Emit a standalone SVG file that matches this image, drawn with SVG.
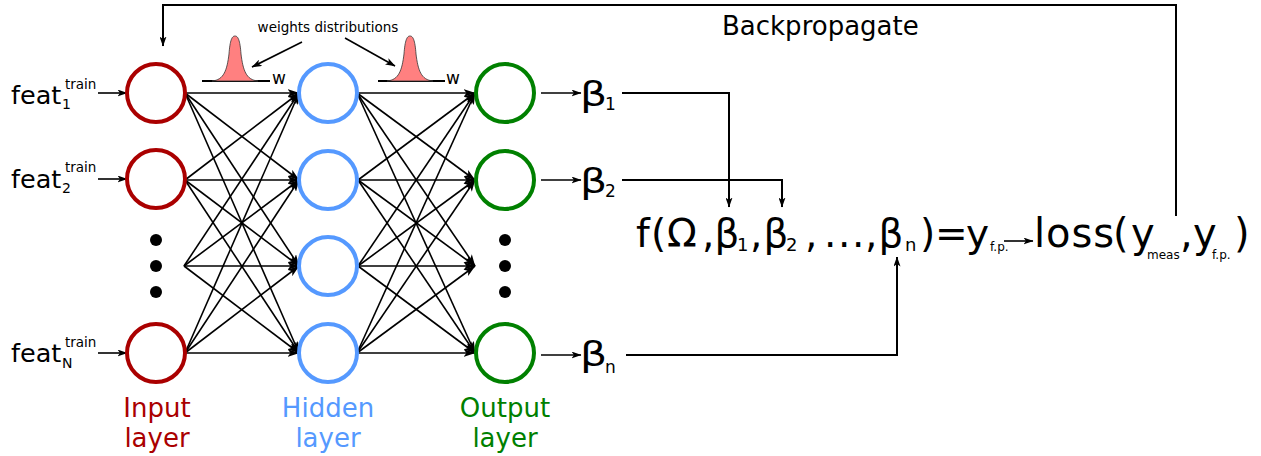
<svg xmlns="http://www.w3.org/2000/svg" width="1261" height="456" viewBox="0 0 1261 456">
<style>
text{font-family:"DejaVu Sans",Verdana,sans-serif;fill:#000}
.node{fill:#fff;stroke-width:4}
.in{stroke:#aa0000}.hid{stroke:#5599ff}.out{stroke:#008000}
.ln{stroke:#000;stroke-width:1.6;fill:none}
.lk{stroke:#000;stroke-width:2;fill:none}
.bell{fill:#ff8080;stroke:#333;stroke-width:0.8}
</style>
<defs>
<marker id="ah" viewBox="0 0 12 8" refX="11.5" refY="4" markerWidth="12" markerHeight="8" markerUnits="userSpaceOnUse" orient="auto"><path d="M0,0 L12,4 L0,8 L3,4 Z" fill="#000"/></marker>
<marker id="as" viewBox="0 0 10 7" refX="9.5" refY="3.5" markerWidth="10" markerHeight="7" markerUnits="userSpaceOnUse" orient="auto"><path d="M0,0 L10,3.5 L0,7 L2.5,3.5 Z" fill="#000"/></marker>
</defs>

<g id="connectors">
<path class="ln" marker-end="url(#ah)" d="M185,93 L299,93"/>
<path class="ln" marker-end="url(#ah)" d="M185,93 L299,180"/>
<path class="ln" marker-end="url(#ah)" d="M185,93 L299,266"/>
<path class="ln" marker-end="url(#ah)" d="M185,93 L299,353"/>
<path class="ln" marker-end="url(#ah)" d="M185,180 L299,93"/>
<path class="ln" marker-end="url(#ah)" d="M185,180 L299,180"/>
<path class="ln" marker-end="url(#ah)" d="M185,180 L299,266"/>
<path class="ln" marker-end="url(#ah)" d="M185,180 L299,353"/>
<path class="ln" marker-end="url(#ah)" d="M184,266 L299,93"/>
<path class="ln" marker-end="url(#ah)" d="M184,266 L299,180"/>
<path class="ln" marker-end="url(#ah)" d="M184,266 L299,266"/>
<path class="ln" marker-end="url(#ah)" d="M184,266 L299,353"/>
<path class="ln" marker-end="url(#ah)" d="M185,353 L299,93"/>
<path class="ln" marker-end="url(#ah)" d="M185,353 L299,180"/>
<path class="ln" marker-end="url(#ah)" d="M185,353 L299,266"/>
<path class="ln" marker-end="url(#ah)" d="M185,353 L299,353"/>
<path class="ln" marker-end="url(#ah)" d="M357,93 L475,93"/>
<path class="ln" marker-end="url(#ah)" d="M357,93 L475,180"/>
<path class="ln" marker-end="url(#ah)" d="M357,93 L475,266"/>
<path class="ln" marker-end="url(#ah)" d="M357,93 L475,353"/>
<path class="ln" marker-end="url(#ah)" d="M358,180 L475,93"/>
<path class="ln" marker-end="url(#ah)" d="M358,180 L475,180"/>
<path class="ln" marker-end="url(#ah)" d="M358,180 L475,266"/>
<path class="ln" marker-end="url(#ah)" d="M358,180 L475,353"/>
<path class="ln" marker-end="url(#ah)" d="M358,266 L475,93"/>
<path class="ln" marker-end="url(#ah)" d="M358,266 L475,180"/>
<path class="ln" marker-end="url(#ah)" d="M358,266 L475,266"/>
<path class="ln" marker-end="url(#ah)" d="M358,266 L475,353"/>
<path class="ln" marker-end="url(#ah)" d="M357,353 L475,93"/>
<path class="ln" marker-end="url(#ah)" d="M357,353 L475,180"/>
<path class="ln" marker-end="url(#ah)" d="M357,353 L475,266"/>
<path class="ln" marker-end="url(#ah)" d="M357,353 L475,353"/>
<path class="ln" marker-end="url(#as)" d="M98,93 L127,93"/>
<path class="ln" marker-end="url(#as)" d="M98,179 L127,179"/>
<path class="ln" marker-end="url(#as)" d="M98,353 L127,353"/>
<path class="ln" marker-end="url(#as)" d="M541,93 L581,93"/>
<path class="ln" marker-end="url(#as)" d="M541,180 L581,180"/>
<path class="ln" marker-end="url(#as)" d="M541,355 L581,355"/>
<path class="lk" marker-end="url(#as)" d="M622,93 L729,93 L729,207"/>
<path class="lk" marker-end="url(#as)" d="M622,180 L782,180 L782,207"/>
<path class="lk" marker-end="url(#as)" d="M626,355 L897,355 L897,257"/>
<path class="ln" marker-end="url(#as)" d="M1004,241 L1033,241"/>
<path class="lk" marker-end="url(#as)" d="M1176,216 L1176,5 L163,5 L163,46"/>
<path class="ln" marker-end="url(#as)" d="M302,42 L252,67"/>
<path class="ln" marker-end="url(#as)" d="M345,38 L395,66"/>
</g>

<g id="input-layer">
<circle class="node in" cx="156" cy="93" r="29"/>
<circle class="node in" cx="156" cy="179" r="29"/>
<circle class="node in" cx="156" cy="353" r="29"/>
<circle cx="156" cy="240" r="6"/><circle cx="156" cy="266" r="6"/><circle cx="156" cy="292" r="6"/>
</g>
<g id="hidden-layer">
<circle class="node hid" cx="328" cy="93" r="29"/>
<circle class="node hid" cx="328" cy="180" r="29"/>
<circle class="node hid" cx="328" cy="266" r="29"/>
<circle class="node hid" cx="328" cy="353" r="29"/>
</g>
<g id="output-layer">
<circle class="node out" cx="505" cy="93" r="29"/>
<circle class="node out" cx="505" cy="180" r="29"/>
<circle class="node out" cx="505" cy="353" r="29"/>
<circle cx="505" cy="240" r="6"/><circle cx="505" cy="266" r="6"/><circle cx="505" cy="292" r="6"/>
</g>

<g id="features">
<text x="11" y="104" font-size="25.5">feat</text><text x="62" y="109" font-size="14">1</text><text x="65" y="89" font-size="13.5">train</text>
<text x="11" y="188" font-size="25.5">feat</text><text x="62" y="193" font-size="14">2</text><text x="65" y="172" font-size="13.5">train</text>
<text x="11" y="362" font-size="25.5">feat</text><text x="62" y="368" font-size="14">N</text><text x="65" y="347" font-size="13.5">train</text>
</g>

<g id="weights">
<text x="328" y="32" font-size="13.5" text-anchor="middle">weights distributions</text>
<path class="lk" d="M202,81 L270,81" stroke-width="1.6"/>
<path class="bell" d="M212,81 C224,80 227,70 229,54 C230,40 232,36 235,36 C238,36 240,40 241,54 C243,70 246,80 258,81 Z"/>
<text x="272" y="84" font-size="17">w</text>
<path class="lk" d="M378,81 L445,81" stroke-width="1.6"/>
<path class="bell" d="M387,81 C399,80 402,70 404,54 C405,40 407,36 410,36 C413,36 415,40 416,54 C418,70 421,80 433,81 Z"/>
<text x="446" y="84" font-size="17">w</text>
</g>

<g id="betas">
<text transform="translate(580,106) scale(1.25,1)" font-size="34">β</text><text x="605" y="110" font-size="17">1</text>
<text transform="translate(580,193) scale(1.25,1)" font-size="34">β</text><text x="605" y="197" font-size="17">2</text>
<text transform="translate(580,366) scale(1.25,1)" font-size="34">β</text><text x="605" y="373" font-size="17">n</text>
</g>

<g id="formula">
<text y="247" font-size="39"><tspan x="636">f</tspan><tspan x="651">(</tspan><tspan x="667">Ω</tspan><tspan x="702">,</tspan><tspan x="714.5">β</tspan><tspan x="750">,</tspan><tspan x="763.5">β</tspan><tspan x="805">,</tspan><tspan x="824">.</tspan><tspan x="838">.</tspan><tspan x="852">.</tspan><tspan x="865">,</tspan><tspan x="878.5">β</tspan><tspan x="920">)</tspan><tspan x="935">=</tspan><tspan x="966">y</tspan></text>
<text y="251" font-size="18"><tspan x="737">1</tspan><tspan x="786">2</tspan><tspan x="905">n</tspan></text>
<text x="990" y="251" font-size="12">f.p.</text>
</g>

<g id="loss">
<text x="1034" y="247" font-size="40" textLength="80" lengthAdjust="spacing">loss</text>
<text y="247" font-size="40"><tspan x="1113">(</tspan><tspan x="1131">y</tspan><tspan x="1180">,</tspan><tspan x="1193">y</tspan><tspan x="1234">)</tspan></text>
<text x="1147" y="259" font-size="12">meas</text>
<text x="1212" y="259" font-size="12">f.p.</text>
</g>

<g id="backprop">
<text x="722" y="35" font-size="26">Backpropagate</text>
</g>

<g id="layer-labels">
<text x="157" y="417" font-size="26" text-anchor="middle" style="fill:#aa0000">Input</text>
<text x="157" y="447" font-size="26" text-anchor="middle" style="fill:#aa0000">layer</text>
<text x="328" y="417" font-size="26" text-anchor="middle" style="fill:#5599ff">Hidden</text>
<text x="328" y="447" font-size="26" text-anchor="middle" style="fill:#5599ff">layer</text>
<text x="505" y="417" font-size="26" text-anchor="middle" style="fill:#008000">Output</text>
<text x="505" y="447" font-size="26" text-anchor="middle" style="fill:#008000">layer</text>
</g>
</svg>
